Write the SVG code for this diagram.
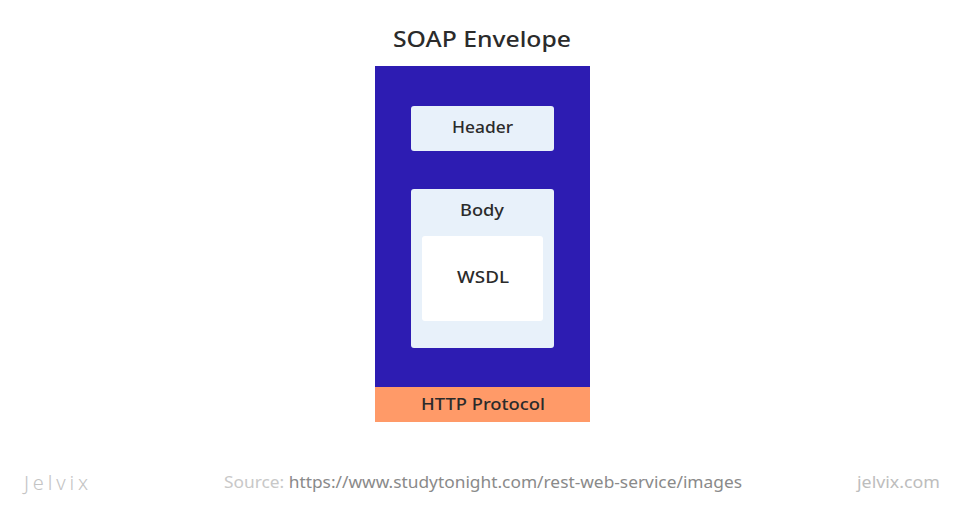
<svg xmlns="http://www.w3.org/2000/svg" width="966" height="516" viewBox="0 0 966 516">
<style>
.t{font-family:"Noto Sans","DejaVu Sans","Liberation Sans",sans-serif;fill:#2b2b2b;text-anchor:middle;font-weight:500}
.lbl{font-size:16px}
.box{fill:#e8f1fa}
.f{font-family:"Noto Sans","DejaVu Sans",sans-serif;font-size:16px}
</style>
<rect width="966" height="516" fill="#ffffff"/>
<text class="t" x="482" y="47" font-size="22" textLength="178" lengthAdjust="spacingAndGlyphs">SOAP Envelope</text>
<g id="envelope">
<rect x="375" y="66" width="215" height="322" fill="#2d1cb2"/>
</g>
<g id="http">
<rect x="375" y="387" width="215" height="35" fill="#ff9a68"/>
<text class="t lbl" x="483" y="410" textLength="124" lengthAdjust="spacingAndGlyphs">HTTP Protocol</text>
</g>
<g id="header">
<rect class="box" x="411" y="106" width="143" height="45" rx="3"/>
<text class="t lbl" x="482.5" y="133" textLength="61" lengthAdjust="spacingAndGlyphs">Header</text>
</g>
<g id="body">
<rect class="box" x="411" y="189" width="143" height="159" rx="3"/>
<text class="t lbl" x="482" y="216" textLength="44" lengthAdjust="spacingAndGlyphs">Body</text>
</g>
<g id="wsdl">
<rect x="422" y="236" width="121" height="85" rx="3" fill="#ffffff"/>
<text class="t" x="483" y="283" font-size="17" textLength="52" lengthAdjust="spacingAndGlyphs">WSDL</text>
</g>
<g id="connectors"></g>
<text x="24" y="490" font-family="Noto Sans,sans-serif" font-size="20" font-weight="300" fill="#c4c4c4" textLength="64" lengthAdjust="spacing">Jelvix</text>
<text class="f" x="224" y="488" fill="#c8c8c8" textLength="518" lengthAdjust="spacingAndGlyphs">Source: <tspan fill="#8a8a8a">https://www.studytonight.com/rest-web-service/images</tspan></text>
<text class="f" x="857" y="488" fill="#bdbdbd" textLength="83" lengthAdjust="spacingAndGlyphs">jelvix.com</text>
</svg>
